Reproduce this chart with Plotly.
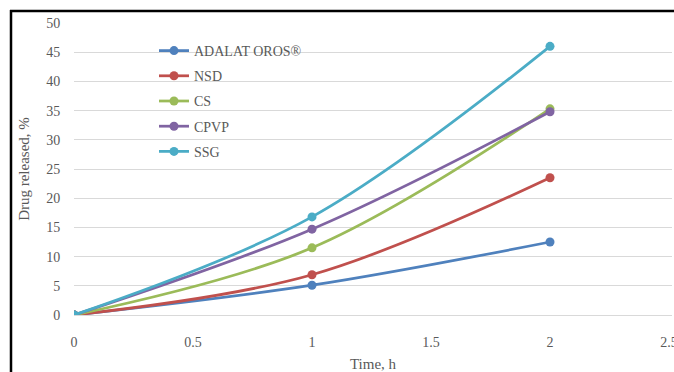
import plotly.graph_objects as go

time_h = [0, 1, 2]
series_names = ["ADALAT OROS®", "NSD", "CS", "CPVP", "SSG"]
adalat = [0, 5.1, 12.5]
nsd = [0, 6.9, 23.5]
cs = [0, 11.5, 35.3]
cpvp = [0, 14.7, 34.8]
ssg = [0, 16.8, 46.0]
x_ticks = [0, 0.5, 1, 1.5, 2, 2.5]
y_ticks = [0, 5, 10, 15, 20, 25, 30, 35, 40, 45, 50]

colors = ["#4F81BD", "#C0504D", "#9BBB59", "#8064A2", "#4BACC6"]
values = [adalat, nsd, cs, cpvp, ssg]

W, H = 674, 372
# plot area in reference pixels: x 74..672 (2.5 at 669), y 23..315
L = 74
T = 23
B = H - 315
R = W - 672
xr_max = 2.5 * (672 - 74) / (669 - 74)

fig = go.Figure()
for i, (name, vals) in enumerate(zip(series_names, values)):
    fig.add_trace(go.Scatter(
        x=time_h, y=vals, name=name, mode="lines+markers",
        line=dict(color=colors[i], width=2.75, shape="spline", smoothing=1),
        marker=dict(color=colors[i], size=9),
        legendgroup=name,
    ))

font_family = "Liberation Serif, DejaVu Serif, serif"
pw = W - L - R
ph = H - T - B


def px2x(px):
    return (px - L) / pw


def py2y(py):
    return (H - B - py) / ph


fig.update_layout(
    width=W, height=H,
    margin=dict(l=L, r=R, t=T, b=B, autoexpand=False),
    plot_bgcolor="white", paper_bgcolor="white",
    font=dict(family=font_family, size=14, color="#595959"),
    showlegend=True,
    legend=dict(x=px2x(154), y=py2y(35), xanchor="left", yanchor="top",
                bgcolor="rgba(0,0,0,0)", tracegroupgap=4,
                font=dict(family=font_family, size=14, color="#595959")),
    xaxis=dict(range=[0, xr_max], tickvals=x_ticks, ticktext=[str(v) for v in x_ticks],
               showgrid=False, zeroline=False, showline=False, automargin=False,
               ticks="outside", ticklen=14, tickcolor="rgba(0,0,0,0)",
               ticklabeloverflow="allow",
               title=dict(text="Time, h", standoff=10,
                          font=dict(family=font_family, size=15, color="#595959"))),
    yaxis=dict(range=[0, 50], tickvals=y_ticks, showgrid=True, gridcolor="#D9D9D9",
               gridwidth=1, zeroline=True, zerolinecolor="#D9D9D9", zerolinewidth=1,
               showline=False, automargin=False, ticks="outside", ticklen=10,
               tickcolor="rgba(0,0,0,0)",
               title=dict(text="Drug released, %", standoff=12,
                          font=dict(family=font_family, size=15, color="#595959"))),
)

# black frame (left and top edges of the original chart border)
fig.add_shape(type="line", xref="paper", yref="paper",
              x0=px2x(11), x1=px2x(11), y0=py2y(10), y1=py2y(400),
              line=dict(color="black", width=2.5))
fig.add_shape(type="line", xref="paper", yref="paper",
              x0=px2x(10), x1=px2x(700), y0=py2y(11), y1=py2y(11),
              line=dict(color="black", width=2.5))

fig.write_html(
    "out.html",
    config={"displayModeBar": False},
    post_script="document.body.style.margin='0';document.body.style.overflow='hidden';",
)
